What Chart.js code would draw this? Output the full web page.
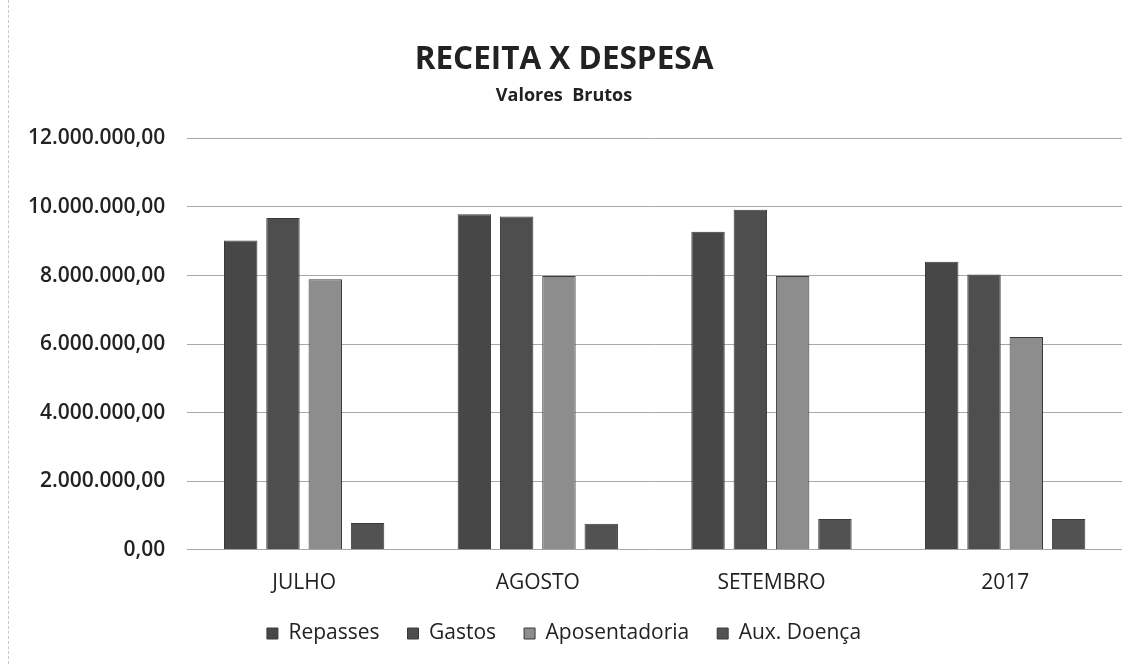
<!DOCTYPE html>
<html lang="pt-BR">
<head>
<meta charset="utf-8">
<title>Receita x Despesa</title>
<script src="https://cdn.jsdelivr.net/npm/chart.js@4.4.1/dist/chart.umd.min.js"></script>
<style>
    html, body { margin: 0; padding: 0; background: #fff; }
    #wrap { position: relative; width: 1142px; height: 664px; }
    #wrap:before {
        content: ''; position: absolute; left: 8px; top: 0; bottom: 0;
        border-left: 1px dashed #c8c8c8;
    }
</style>
</head>
<body>
<div id="wrap"><canvas id="chart" width="1142" height="664"></canvas></div>
<script>
    // Dados
    var categories = ['JULHO', 'AGOSTO', 'SETEMBRO', '2017'];
    var repasses = [9020000, 9790000, 9280000, 8400000];
    var gastos = [9680000, 9720000, 9920000, 8030000];
    var aposentadoria = [7890000, 7990000, 7990000, 6210000];
    var auxDoenca = [780000, 760000, 900000, 900000];
    var seriesNames = ['Repasses', 'Gastos', 'Aposentadoria', 'Aux. Doença'];
    var seriesColors = ['#474747', '#4e4e4e', '#8d8d8d', '#525252'];

    var FONT = '"Open Sans", "Liberation Sans", sans-serif';

    function formatBR(v) {
        var parts = Math.round(v).toString().replace(/\B(?=(\d{3})+(?!\d))/g, '.');
        return parts + ',00';
    }

    var allValues = [repasses, gastos, aposentadoria, auxDoenca];
    var datasets = seriesNames.map(function(name, i) {
        return {
            label: name,
            data: allValues[i],
            backgroundColor: seriesColors[i],
            borderColor: '#3a3a3a',
            borderWidth: 1,
            categoryPercentage: 0.724,
            barPercentage: 0.79
        };
    });

    var defaultLabels = Chart.defaults.plugins.legend.labels.generateLabels;

    new Chart(document.getElementById('chart'), {
        type: 'bar',
        data: { labels: categories, datasets: datasets },
        options: {
            responsive: false,
            animation: false,
            devicePixelRatio: 1,
            layout: { padding: { left: 6, right: 20, top: 41, bottom: 10 } },
            plugins: {
                title: {
                    display: true,
                    text: 'RECEITA X DESPESA',
                    color: '#222',
                    font: { family: FONT, size: 31.5, weight: 'bold' },
                    padding: { top: 0, bottom: 0 }
                },
                subtitle: {
                    display: true,
                    text: 'Valores  Brutos',
                    color: '#222',
                    font: { family: FONT, size: 18, weight: 'bold' },
                    padding: { top: 6, bottom: 32 }
                },
                legend: {
                    position: 'bottom',
                    labels: {
                        color: '#222',
                        font: { family: FONT, size: 21 },
                        boxWidth: 11,
                        boxHeight: 11,
                        padding: 14,
                        // extra space between items without growing the legend height
                        generateLabels: function(chart) {
                            var items = defaultLabels(chart);
                            items.forEach(function(it, i) {
                                if (i < items.length - 1) {
                                    it.text = it.text + '\u2002\u2009';
                                }
                            });
                            return items;
                        }
                    }
                },
                tooltip: { enabled: false }
            },
            scales: {
                x: {
                    grid: { display: false },
                    border: { display: false },
                    ticks: { color: '#222', font: { family: FONT, size: 21 }, padding: 13 }
                },
                y: {
                    min: 0,
                    max: 12000000,
                    ticks: {
                        stepSize: 2000000,
                        color: '#222',
                        font: { family: FONT, size: 21, weight: '600' },
                        padding: 22,
                        callback: function(v) { return formatBR(v); }
                    },
                    grid: { color: '#a8a8a8', lineWidth: 1, drawTicks: false },
                    border: { display: false }
                }
            }
        }
    });
</script>
</body>
</html>
